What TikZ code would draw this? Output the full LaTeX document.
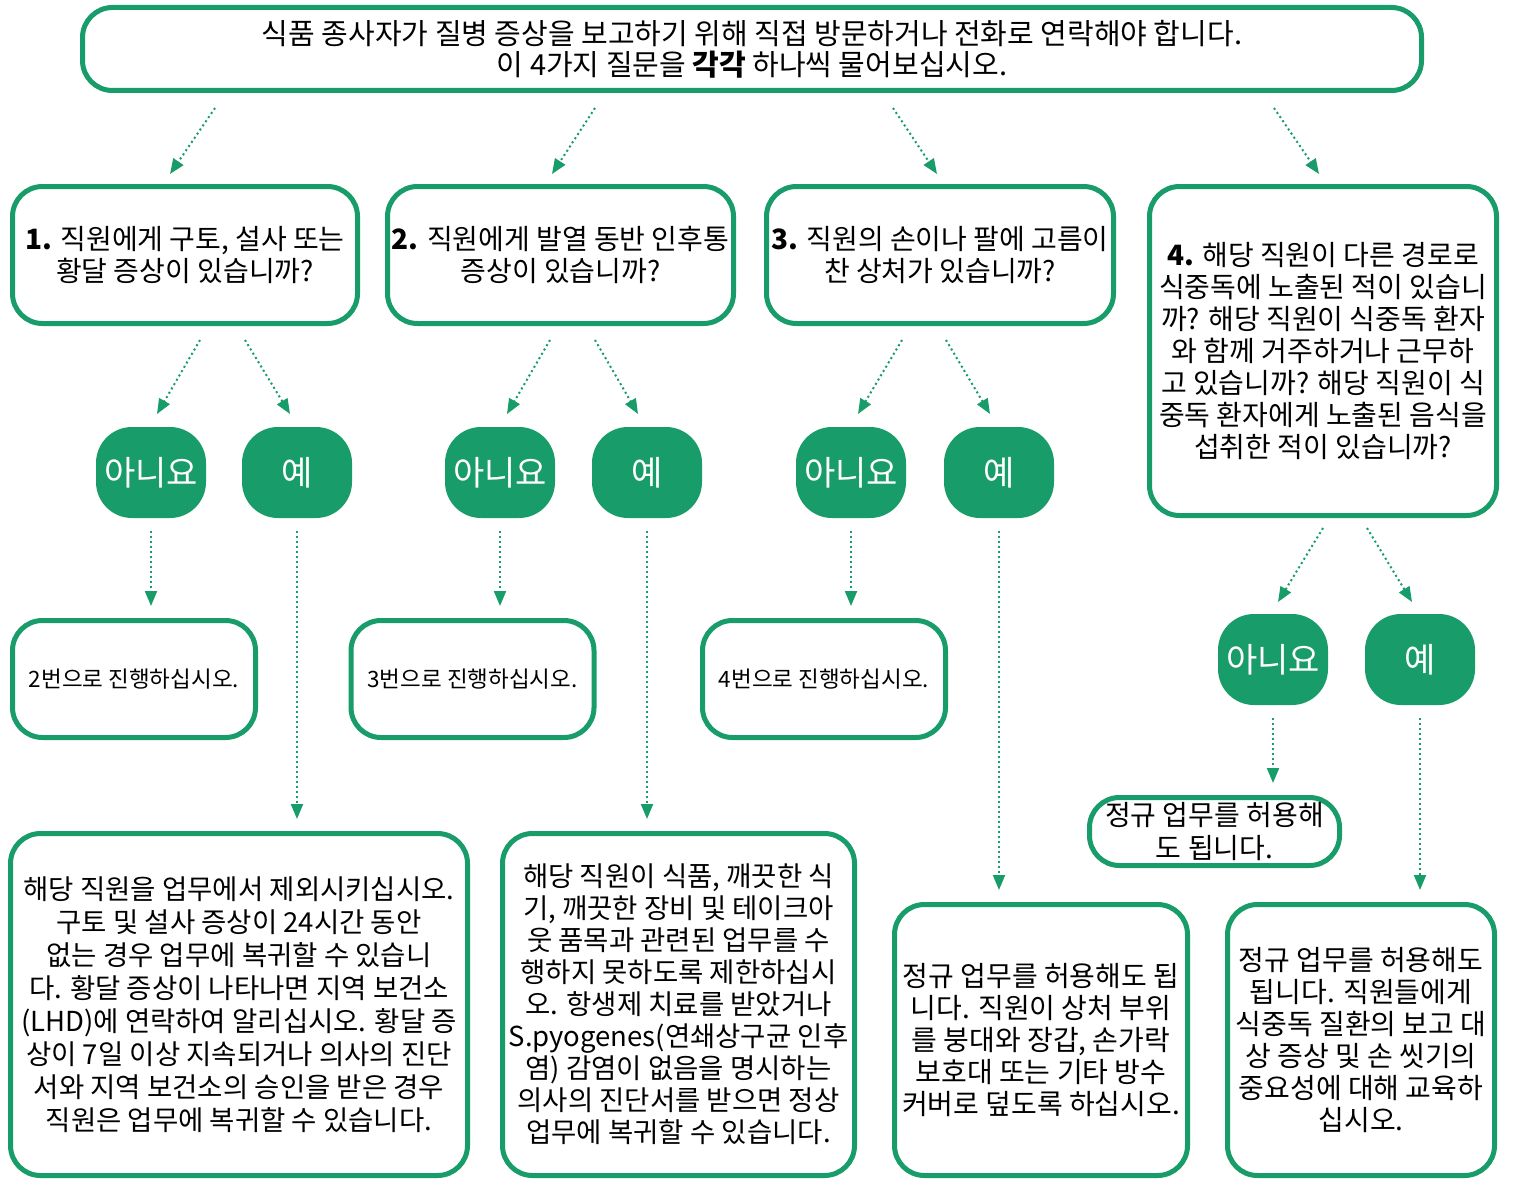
\documentclass[tikz,border=0pt]{standalone}
\usepackage{fontspec}
\usepackage{tikz}
\usetikzlibrary{arrows.meta}
\newfontfamily\krfont{Noto Sans CJK KR}
\definecolor{fsgreen}{HTML}{189C69}

\begin{document}
\begin{tikzpicture}[x=1pt, y=-1pt,
    box/.style={draw=fsgreen, line width=5pt, rounded corners=30pt, fill=white,
      align=center, inner sep=0pt, outer sep=0pt},
    ansbtn/.style={fill=fsgreen, rounded corners=36pt, minimum width=110pt,
      minimum height=91pt, inner sep=0pt, outer sep=0pt, text=white,
      font=\krfont\fontsize{34}{38}\selectfont},
    arr/.style={fsgreen, line width=2pt, dash pattern=on 2pt off 3pt,
      -{Triangle[length=15pt, width=12pt]}}]
      \useasboundingbox (0,0) rectangle (1514,1180);
      % Intro box
      \node[box, minimum width=1339pt, minimum height=83pt,
        font=\krfont\fontsize{29}{31}\selectfont] (top) at (752,49)
        {식품 종사자가 질병 증상을 보고하기 위해 직접 방문하거나 전화로 연락해야 합니다.\\
         이 4가지 질문을 \textbf{각각} 하나씩 물어보십시오.};
      % The four questions
      \node[box, minimum width=345pt, minimum height=137pt,
        font=\krfont\fontsize{28}{32}\selectfont] (q1) at (185,255)
        {\textbf{1.} 직원에게 구토, 설사 또는\\ 황달 증상이 있습니까?};
      \node[box, minimum width=346pt, minimum height=137pt,
        font=\krfont\fontsize{28}{32}\selectfont] (q2) at (560.5,255)
        {\textbf{2.} 직원에게 발열 동반 인후통\\ 증상이 있습니까?};
      \node[box, minimum width=347pt, minimum height=137pt,
        font=\krfont\fontsize{28}{32}\selectfont] (q3) at (940,255)
        {\textbf{3.} 직원의 손이나 팔에 고름이\\ 찬 상처가 있습니까?};
      \node[box, minimum width=347pt, minimum height=329pt,
        font=\krfont\fontsize{28}{32}\selectfont] (q4) at (1323,351)
        {\textbf{4.} 해당 직원이 다른 경로로\\ 식중독에 노출된 적이 있습니\\
         까? 해당 직원이 식중독 환자\\ 와 함께 거주하거나 근무하\\
         고 있습니까? 해당 직원이 식\\ 중독 환자에게 노출된 음식을\\
         섭취한 적이 있습니까?};
      % Answer buttons
      \foreach \i/\nx/\yx/\by in {1/151/297/472.5, 2/500/647/472.5,
          3/851/999/472.5, 4/1273/1420/659.5} {
        \node[ansbtn] (no\i) at (\nx,\by) {아니요};
        \node[ansbtn] (yes\i) at (\yx,\by) {예};
      }
      % Go on boxes
      \foreach \i/\x in {2/134, 3/472.5, 4/824} {
        \node[box, minimum width=243pt, minimum height=117pt,
          font=\krfont\fontsize{22.5}{26}\selectfont] (goto\i) at (\x,679)
          {\i{}번으로 진행하십시오.};
      }
      % Outcome boxes
      \node[box, minimum width=457pt, minimum height=342pt,
        font=\krfont\fontsize{27.5}{33}\selectfont] (out1) at (239,1004.5)
        {해당 직원을 업무에서 제외시키십시오.\\ 구토 및 설사 증상이 24시간 동안\\
         없는 경우 업무에 복귀할 수 있습니\\ 다. 황달 증상이 나타나면 지역 보건소\\
         (LHD)에 연락하여 알리십시오. 황달 증\\ 상이 7일 이상 지속되거나 의사의 진단\\
         서와 지역 보건소의 승인을 받은 경우\\ 직원은 업무에 복귀할 수 있습니다.};
      \node[box, minimum width=352pt, minimum height=342pt,
        font=\krfont\fontsize{27.5}{32}\selectfont] (out2) at (678.5,1004.5)
        {해당 직원이 식품, 깨끗한 식\\ 기, 깨끗한 장비 및 테이크아\\
         웃 품목과 관련된 업무를 수\\ 행하지 못하도록 제한하십시\\
         오. 항생제 치료를 받았거나\\ S.pyogenes(연쇄상구균 인후\\
         염) 감염이 없음을 명시하는\\ 의사의 진단서를 받으면 정상\\
         업무에 복귀할 수 있습니다.};
      \node[box, minimum width=293pt, minimum height=271pt,
        font=\krfont\fontsize{28}{32}\selectfont] (out3) at (1041,1040)
        {정규 업무를 허용해도 됩\\ 니다. 직원이 상처 부위\\ 를 붕대와 장갑, 손가락\\
         보호대 또는 기타 방수\\ 커버로 덮도록 하십시오.};
      \node[box, minimum width=250pt, minimum height=68pt,
        font=\krfont\fontsize{28}{33}\selectfont] (ok4) at (1214.5,831.5)
        {정규 업무를 허용해\\ 도 됩니다.};
      \node[box, minimum width=267pt, minimum height=271pt,
        font=\krfont\fontsize{28}{32}\selectfont] (out4) at (1361,1040)
        {정규 업무를 허용해도\\ 됩니다. 직원들에게\\ 식중독 질환의 보고 대\\
         상 증상 및 손 씻기의\\ 중요성에 대해 교육하\\ 십시오.};
      % Dotted arrows
      \draw[arr] ([xshift=-537pt, yshift=-17.5pt]top.south) -- ([xshift=-15pt, yshift=12.5pt]q1.north);
      \draw[arr] ([xshift=-157pt, yshift=-17.5pt]top.south) -- ([xshift=-8.5pt, yshift=12.5pt]q2.north);
      \draw[arr] ([xshift=141pt, yshift=-17.5pt]top.south) -- ([xshift=-3pt, yshift=12.5pt]q3.north);
      \draw[arr] ([xshift=522pt, yshift=-17.5pt]top.south) -- ([xshift=-4pt, yshift=12.5pt]q4.north);
      \draw[arr] ([xshift=15pt, yshift=-16.5pt]q1.south) -- ([xshift=6pt, yshift=13pt]no1.north);
      \draw[arr] ([xshift=60pt, yshift=-16.5pt]q1.south) -- ([xshift=-7pt, yshift=13pt]yes1.north);
      \draw[arr] ([xshift=-10.5pt, yshift=-16.5pt]q2.south) -- ([xshift=7pt, yshift=13pt]no2.north);
      \draw[arr] ([xshift=34.5pt, yshift=-16.5pt]q2.south) -- ([xshift=-9pt, yshift=13pt]yes2.north);
      \draw[arr] ([xshift=-38pt, yshift=-16.5pt]q3.south) -- ([xshift=7pt, yshift=13pt]no3.north);
      \draw[arr] ([xshift=6pt, yshift=-16.5pt]q3.south) -- ([xshift=-9pt, yshift=13pt]yes3.north);
      \draw[arr] ([yshift=-12.5pt]q4.south) -- ([xshift=5pt, yshift=12pt]no4.north);
      \draw[arr] ([xshift=44pt, yshift=-12.5pt]q4.south) -- ([xshift=-8pt, yshift=12pt]yes4.north);
      \foreach \a/\b in {no1/goto2, yes1/out1, no2/goto3, yes2/out2,
          no3/goto4, yes3/out3, no4/ok4, yes4/out4}
        \draw[arr, shorten <=13pt, shorten >=14.5pt] (\a.south) -- (\a.south |- \b.north);
    \end{tikzpicture}
\end{document}
